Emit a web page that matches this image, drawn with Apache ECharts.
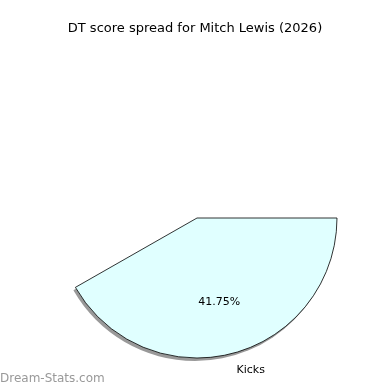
<!DOCTYPE html>
<html><head><meta charset="utf-8">
<script src="https://cdn.jsdelivr.net/npm/echarts@6/dist/echarts.min.js"></script>
<style>html,body{margin:0;padding:0;background:#fff}#c{width:390px;height:390px}</style>
</head><body><div id="c"></div>
<script>
const categories = ['Kicks', 'Other'];
const values = [41.75, 58.25];
const visible = [true, false];
const titleText = 'DT score spread for Mitch Lewis (2026)';
const watermark = 'Dream-Stats.com';

const font = 'DejaVu Sans';
const chart = echarts.init(document.getElementById('c'), null, {renderer: 'canvas'});
const total = values.reduce((a, b) => a + b, 0);
const base = categories.map((n, i) => ({name: n, value: values[i], vis: visible[i]}));
const center = [197, 218];
const R = 140;
const clear = {color: 'rgba(0,0,0,0)', borderWidth: 0};

chart.setOption({
  animation: false,
  title: {text: titleText, left: 'center', top: 17,
    textStyle: {fontFamily: font, fontSize: 13, fontWeight: 'normal', color: '#000'}},
  graphic: [{type: 'text', left: 0, top: 373,
    style: {text: watermark, fontFamily: font, fontSize: 12, fill: '#999'}}],
  series: [
    {type: 'pie', center: [center[0] - 2, center[1] + 3], radius: R, startAngle: 0, clockwise: true,
     silent: true, label: {show: false}, labelLine: {show: false}, z: 1,
     data: base.map(d => ({name: d.name, value: d.value,
       itemStyle: d.vis ? {color: '#999999', borderWidth: 0} : clear}))},
    {type: 'pie', center: center, radius: R, startAngle: 0, clockwise: true,
     silent: true, label: {show: false}, labelLine: {show: false}, z: 2,
     data: base.map(d => ({name: d.name, value: d.value,
       itemStyle: d.vis ? {color: '#e0ffff', borderColor: '#000', borderWidth: 0.8} : clear}))},
    {type: 'pie', center: center, radius: [R * 0.2, R], startAngle: 0, clockwise: true,
     silent: true, labelLine: {show: false}, z: 3,
     data: base.map(d => ({name: d.name, value: d.value, itemStyle: clear,
       label: {show: d.vis, position: 'inside', fontFamily: font, fontSize: 11, color: '#000',
         formatter: () => (d.value / total * 100).toFixed(2) + '%'}}))},
    {type: 'pie', center: center, radius: [R * 1.05, R * 1.15], startAngle: 0, clockwise: true,
     silent: true, labelLine: {show: false}, z: 3,
     data: base.map(d => ({name: d.name, value: d.value, itemStyle: clear,
       label: {show: d.vis, position: 'inside', fontFamily: font, fontSize: 11, color: '#000',
         padding: [0, 0, 0, 27], formatter: '{b}'}}))}
  ]
});
</script></body></html>
